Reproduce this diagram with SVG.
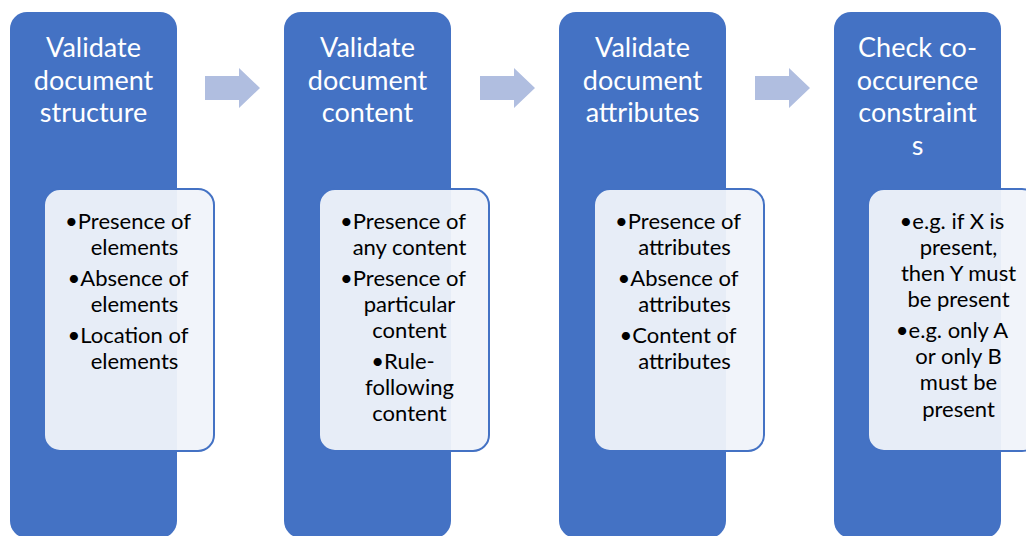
<svg xmlns="http://www.w3.org/2000/svg" width="1026" height="536" viewBox="0 0 1026 536">
<style>
.col{fill:#4472C4;}
.box{fill:#F0F3FA;fill-opacity:0.95;stroke:#4472C4;stroke-width:2;}
.arr{fill:#B0BEE0;}
.ttl{font-family:Lato,"Liberation Sans",sans-serif;font-size:27px;fill:#FFFFFF;text-anchor:middle;}
.bul{font-family:Lato,"Liberation Sans",sans-serif;font-size:22px;fill:#000000;text-anchor:middle;}
</style>
<rect width="1026" height="536" fill="#FFFFFF"/>
<g id="connectors">
<path class="arr" d="M205,76 H239 V68 L260,88 L239,108 V100 H205 Z"/>
<path class="arr" d="M480,76 H514 V68 L535,88 L514,108 V100 H480 Z"/>
<path class="arr" d="M755,76 H789 V68 L810,88 L789,108 V100 H755 Z"/>
</g>
<g id="node1">
<rect class="col" x="10" y="12" width="167" height="526" rx="17"/>
<text class="ttl"><tspan x="93.5" y="57">Validate</tspan><tspan x="93.5" y="90">document</tspan><tspan x="93.5" y="122">structure</tspan></text>
<rect class="box" x="44" y="189" width="170" height="262" rx="16"/>
<text class="bul"><tspan x="128" y="229">•Presence of</tspan><tspan x="134.5" y="255">elements</tspan><tspan x="128" y="286">•Absence of</tspan><tspan x="134.5" y="312">elements</tspan><tspan x="128" y="343">•Location of</tspan><tspan x="134.5" y="369">elements</tspan></text>
</g>
<g id="node2">
<rect class="col" x="284" y="12" width="167" height="526" rx="17"/>
<text class="ttl"><tspan x="367.5" y="57">Validate</tspan><tspan x="367.5" y="90">document</tspan><tspan x="367.5" y="122">content</tspan></text>
<rect class="box" x="319" y="189" width="170" height="262" rx="16"/>
<text class="bul"><tspan x="403" y="229">•Presence of</tspan><tspan x="409.5" y="255">any content</tspan><tspan x="403" y="286">•Presence of</tspan><tspan x="409.5" y="312">particular</tspan><tspan x="409.5" y="338">content</tspan><tspan x="403" y="369">•Rule-</tspan><tspan x="409.5" y="395">following</tspan><tspan x="409.5" y="421">content</tspan></text>
</g>
<g id="node3">
<rect class="col" x="559" y="12" width="167" height="526" rx="17"/>
<text class="ttl"><tspan x="642.5" y="57">Validate</tspan><tspan x="642.5" y="90">document</tspan><tspan x="642.5" y="122">attributes</tspan></text>
<rect class="box" x="594" y="189" width="170" height="262" rx="16"/>
<text class="bul"><tspan x="678" y="229">•Presence of</tspan><tspan x="684.5" y="255">attributes</tspan><tspan x="678" y="286">•Absence of</tspan><tspan x="684.5" y="312">attributes</tspan><tspan x="678" y="343">•Content of</tspan><tspan x="684.5" y="369">attributes</tspan></text>
</g>
<g id="node4">
<rect class="col" x="834" y="12" width="167" height="526" rx="17"/>
<text class="ttl"><tspan x="917.5" y="57">Check co-</tspan><tspan x="917.5" y="90">occurence</tspan><tspan x="917.5" y="122">constraint</tspan><tspan x="917.5" y="155">s</tspan></text>
<rect class="box" x="868" y="189" width="170" height="262" rx="16"/>
<text class="bul"><tspan x="952" y="229">•e.g. if X is</tspan><tspan x="958.5" y="255">present,</tspan><tspan x="958.5" y="281">then Y must</tspan><tspan x="958.5" y="307">be present</tspan><tspan x="952" y="338">•e.g. only A</tspan><tspan x="958.5" y="364">or only B</tspan><tspan x="958.5" y="390">must be</tspan><tspan x="958.5" y="417">present</tspan></text>
</g>
</svg>
